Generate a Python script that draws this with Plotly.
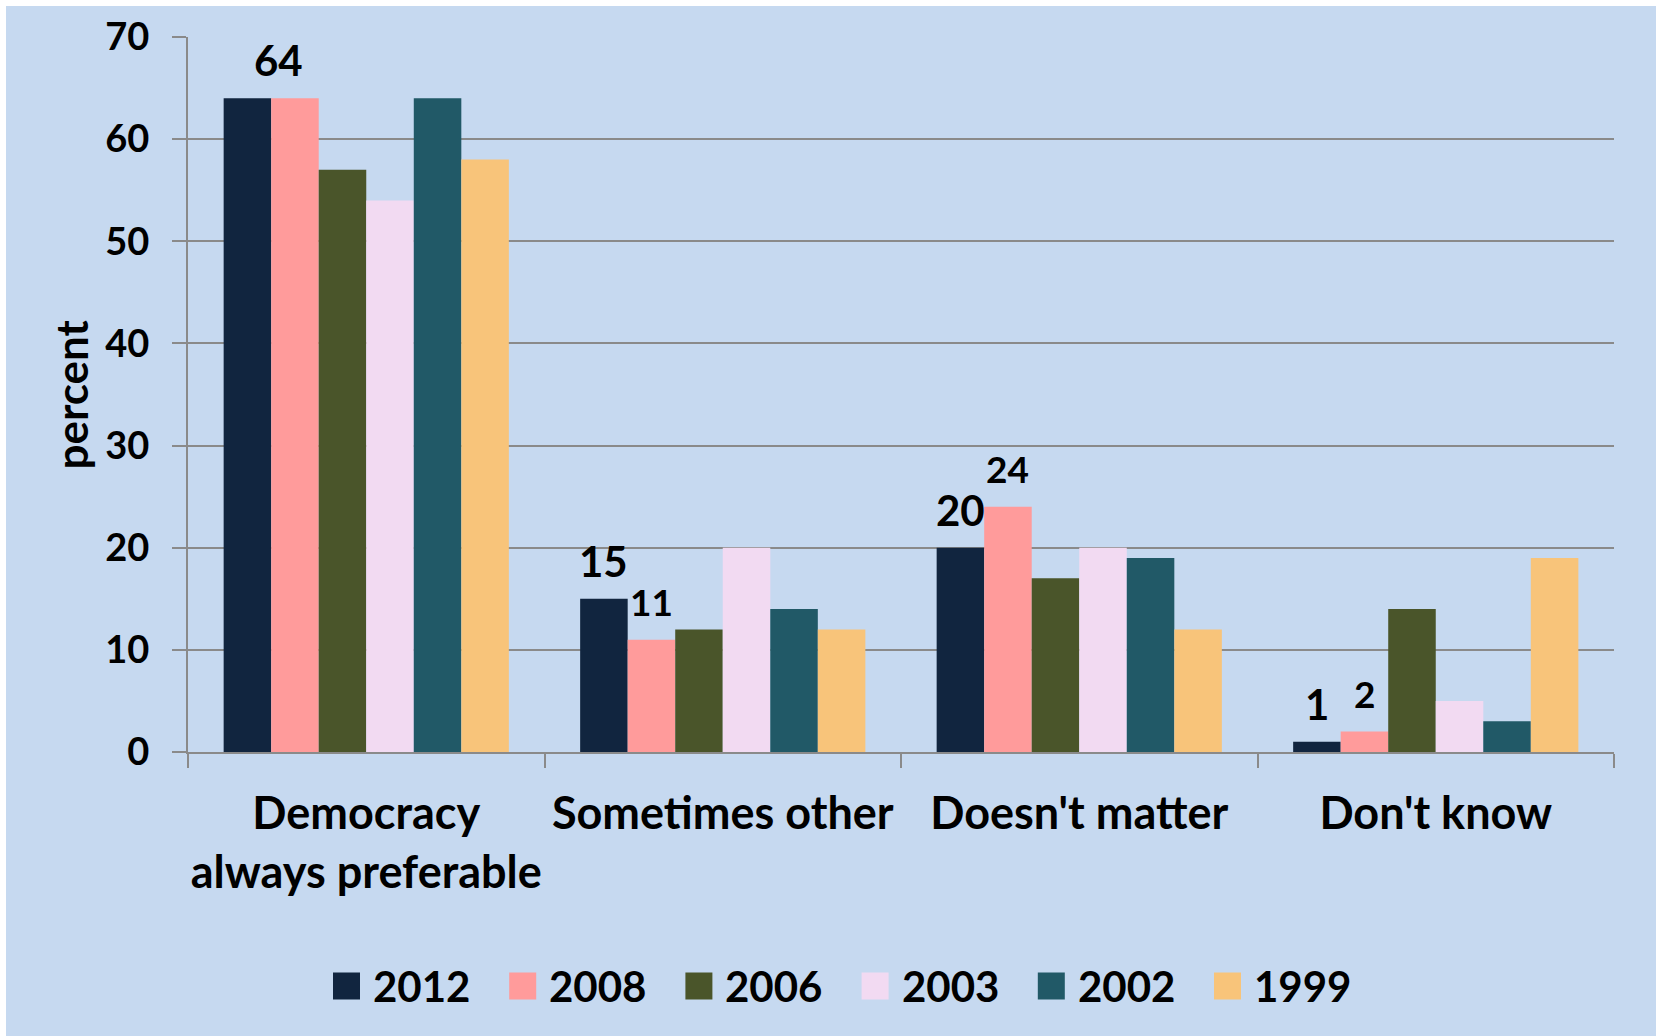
import plotly.graph_objects as go

# Survey responses (percent) by year
categories = ["Democracy<br>always preferable", "Sometimes other", "Doesn't matter", "Don't know"]
years = ["2012", "2008", "2006", "2003", "2002", "1999"]
v2012 = [64, 15, 20, 1]
v2008 = [64, 11, 24, 2]
v2006 = [57, 12, 17, 14]
v2003 = [54, 20, 20, 5]
v2002 = [64, 14, 19, 3]
v1999 = [58, 12, 12, 19]
series = [v2012, v2008, v2006, v2003, v2002, v1999]
colors = ["#11253F", "#FF9B9B", "#4A552A", "#F2DAF2", "#215967", "#F8C47A"]

# value labels shown: series name -> category indices
labelled = {"2012": [0, 1, 2, 3], "2008": [1, 2, 3]}

W, H = 1656, 1036
L, R, T, B = 188, 42, 37, 284
PW, PH = W - L - R, H - T - B
FONT = "Lato"
BG = "#C6D9F0"
GRID = "#8A8A8A"


def px_x(px):
    return (px - L) / PW


def px_y(py):
    return (H - B - py) / PH


fig = go.Figure()
for name, vals, col in zip(years, series, colors):
    fig.add_trace(go.Bar(
        name=name, x=categories, y=vals,
        marker=dict(color=col, line=dict(width=0)),
        showlegend=False,
    ))

bargap = 0.2
bar_w = PW / len(categories) * (1 - bargap) / len(years)

annotations = []
for name, idxs in labelled.items():
    si = years.index(name)
    vals = series[si]
    size = 42 if name == "2012" else 37
    for ci in idxs:
        shift = (si - (len(years) - 1) / 2) * bar_w
        if name == "2012" and ci == 0:
            shift += 31  # nudged clear of the neighbouring bar
        annotations.append(dict(
            x=categories[ci], y=vals[ci], xref="x", yref="y",
            text=str(vals[ci]), showarrow=False,
            xshift=shift, yshift=38, yanchor="middle",
            font=dict(family=FONT, size=size, color="black", weight="bold"),
        ))

# y-axis title
annotations.append(dict(
    x=px_x(70), y=0.5, xref="paper", yref="paper", text="percent",
    textangle=-90, showarrow=False, xanchor="center", yanchor="middle",
    font=dict(family=FONT, size=44, color="black", weight="bold"),
))

# legend drawn as swatches and labels
shapes = [dict(
    type="rect", xref="paper", yref="paper", layer="below",
    x0=px_x(6), x1=px_x(W + 10), y0=px_y(6), y1=px_y(H + 10),
    fillcolor=BG, line=dict(width=0),
)]
leg_x0, leg_step, leg_cy, sw = 333, 176.2, 986, 27
for i, (name, col) in enumerate(zip(years, colors)):
    x0 = leg_x0 + i * leg_step
    shapes.append(dict(
        type="rect", xref="paper", yref="paper",
        x0=px_x(x0), x1=px_x(x0 + sw),
        y0=px_y(leg_cy + sw / 2), y1=px_y(leg_cy - sw / 2),
        fillcolor=col, line=dict(width=0),
    ))
    annotations.append(dict(
        x=px_x(x0 + 38), y=px_y(leg_cy), xref="paper", yref="paper",
        text=name, showarrow=False, xanchor="left", yanchor="middle",
        font=dict(family=FONT, size=42, color="black", weight="bold"),
    ))

fig.update_layout(
    width=W, height=H,
    margin=dict(l=L, r=R, t=T, b=B, pad=0, autoexpand=False),
    paper_bgcolor="white", plot_bgcolor="rgba(0,0,0,0)",
    barmode="group", bargap=bargap, bargroupgap=0,
    font=dict(family=FONT, color="black"),
    annotations=annotations, shapes=shapes,
    showlegend=False,
)
fig.update_xaxes(
    type="category", tickson="boundaries", ticks="outside", ticklen=14,
    tickwidth=2, tickcolor=GRID, showline=True, linecolor=GRID, linewidth=2,
    showgrid=False, ticklabelstandoff=21, tickangle=0, automargin=False,
    tickfont=dict(family=FONT, size=45, color="black", weight="bold"),
)
fig.update_yaxes(
    range=[0, 70], dtick=10, ticks="outside", ticklen=14, tickwidth=2,
    tickcolor=GRID, showline=True, linecolor=GRID, linewidth=2,
    showgrid=True, gridcolor=GRID, gridwidth=2, zeroline=False,
    ticklabelstandoff=15, automargin=False,
    tickfont=dict(family=FONT, size=38, color="black", weight="bold"),
)

fig.write_html("out.html")
